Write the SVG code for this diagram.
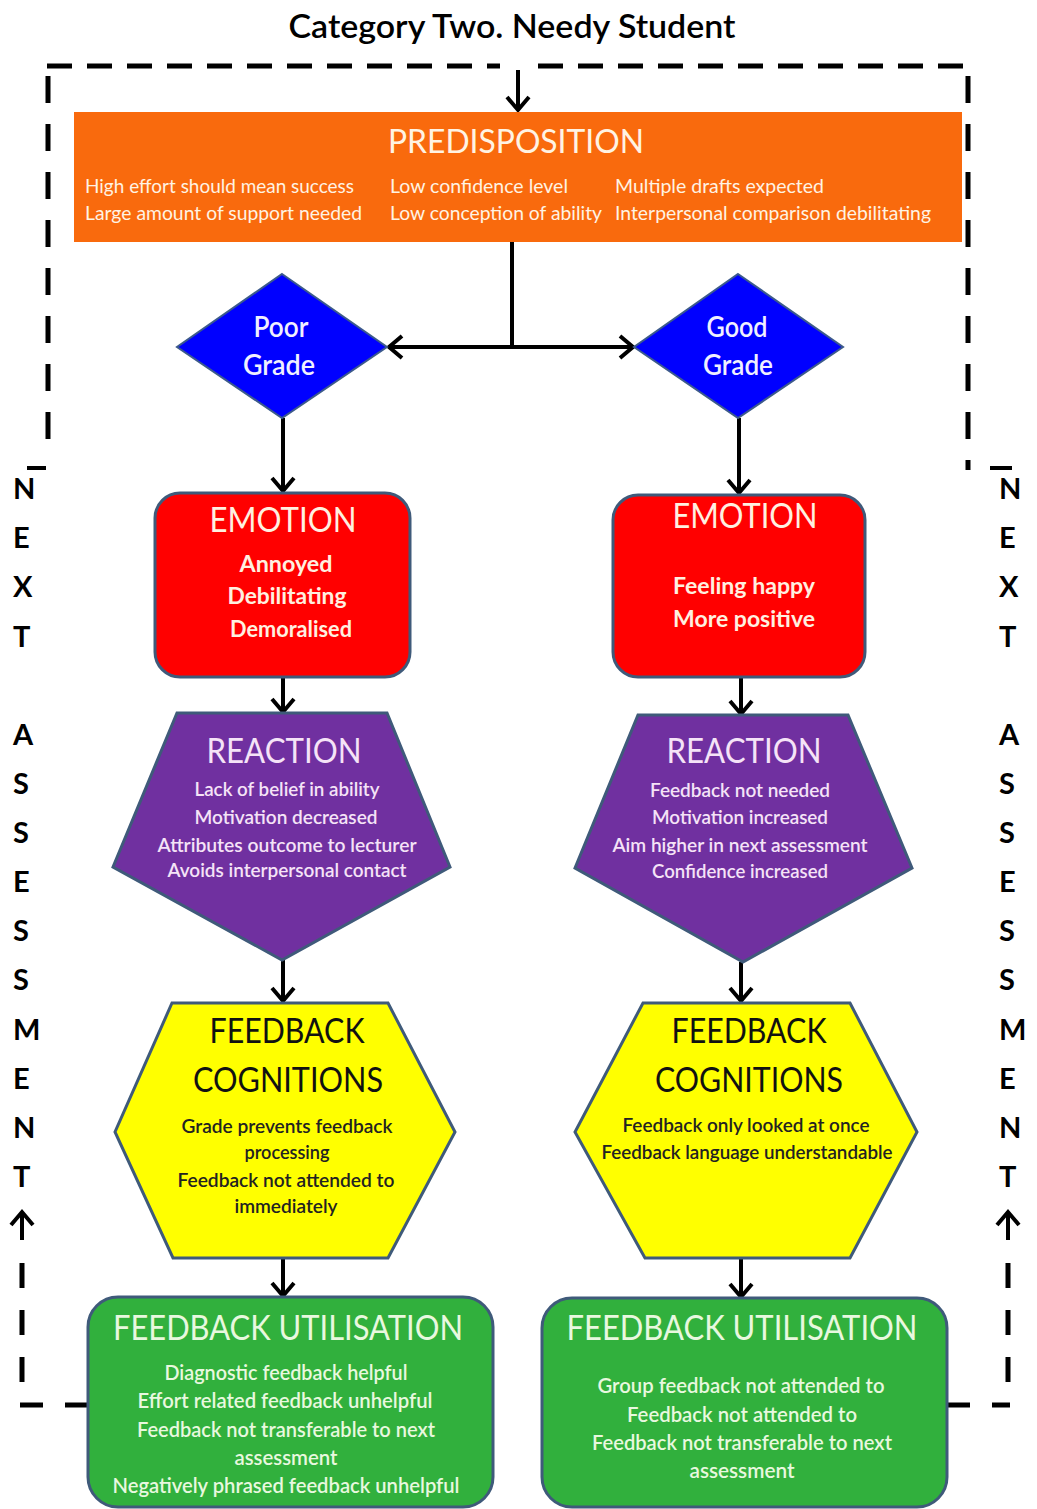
<svg xmlns="http://www.w3.org/2000/svg" width="1037" height="1509" viewBox="0 0 1037 1509">
<style>
.t{font-family:Lato,"Open Sans","Liberation Sans",sans-serif;}
.sh{stroke:#3f5a7a;stroke-width:3;}
.dash{fill:none;stroke:#000;stroke-width:5;}
.conn{fill:none;stroke:#000;stroke-width:4;marker-end:url(#ah);}
.side{font-family:Lato,"Open Sans","Liberation Sans",sans-serif;font-size:29px;font-weight:bold;fill:#000;}
</style>
<defs>
<marker id="ah" markerUnits="userSpaceOnUse" markerWidth="22" markerHeight="26" refX="16" refY="13" orient="auto">
<path d="M3,2 L16,13 L3,24" fill="none" stroke="#000" stroke-width="4"/>
</marker>
</defs>
<rect width="1037" height="1509" fill="#fff"/>

<text class="t" x="512" y="38" font-size="32" font-weight="600" text-anchor="middle" textLength="447" lengthAdjust="spacingAndGlyphs" fill="#000">Category Two. Needy Student</text>

<g id="connectors">
<path class="dash" d="M47,66 H500" stroke-dasharray="25 15"/>
<path class="dash" d="M538,66 H970" stroke-dasharray="25 15"/>
<path class="dash" d="M48,66 V450" stroke-dasharray="27 21" stroke-dashoffset="-10"/>
<path class="dash" d="M968,66 V470" stroke-dasharray="27 21" stroke-dashoffset="-10"/>
<path d="M27,468 H46" stroke="#000" stroke-width="4"/>
<path d="M990,468 H1012" stroke="#000" stroke-width="4"/>
<path class="dash" d="M88,1405 H20" stroke-dasharray="23 22"/>
<path class="dash" d="M947,1405 H1010" stroke-dasharray="23 22"/>
<path class="dash" d="M22,1382 V1245" stroke-dasharray="25 22"/>
<path class="dash" d="M1008,1382 V1245" stroke-dasharray="25 22"/>
<path class="conn" d="M22,1240 V1212"/>
<path class="conn" d="M1008,1240 V1212"/>
<path class="conn" d="M518,70 V110"/>
<path d="M512,242 V347" stroke="#000" stroke-width="4"/>
<path class="conn" d="M514,347 H389"/>
<path class="conn" d="M510,347 H633"/>
<path class="conn" d="M283,418 V491"/>
<path class="conn" d="M739,418 V493"/>
<path class="conn" d="M283,677 V712"/>
<path class="conn" d="M741,677 V714"/>
<path class="conn" d="M283,960 V1001"/>
<path class="conn" d="M741,962 V1001"/>
<path class="conn" d="M283,1258 V1296"/>
<path class="conn" d="M741,1258 V1297"/>
</g>

<g id="next-left">
<text class="side" x="13" y="499">N</text>
<text class="side" x="13" y="548">E</text>
<text class="side" x="13" y="597">X</text>
<text class="side" x="13" y="647">T</text>
<text class="side" x="13" y="745">A</text>
<text class="side" x="13" y="794">S</text>
<text class="side" x="13" y="843">S</text>
<text class="side" x="13" y="892">E</text>
<text class="side" x="13" y="941">S</text>
<text class="side" x="13" y="990">S</text>
<text class="side" x="13" y="1040">M</text>
<text class="side" x="13" y="1089">E</text>
<text class="side" x="13" y="1138">N</text>
<text class="side" x="13" y="1187">T</text>
</g>
<g id="next-right">
<text class="side" x="999" y="499">N</text>
<text class="side" x="999" y="548">E</text>
<text class="side" x="999" y="597">X</text>
<text class="side" x="999" y="647">T</text>
<text class="side" x="999" y="745">A</text>
<text class="side" x="999" y="794">S</text>
<text class="side" x="999" y="843">S</text>
<text class="side" x="999" y="892">E</text>
<text class="side" x="999" y="941">S</text>
<text class="side" x="999" y="990">S</text>
<text class="side" x="999" y="1040">M</text>
<text class="side" x="999" y="1089">E</text>
<text class="side" x="999" y="1138">N</text>
<text class="side" x="999" y="1187">T</text>
</g>

<g id="predisposition">
<rect x="74" y="112" width="888" height="130" fill="#f96a0d"/>
<g class="t" fill="#fff3e3">
<text x="516" y="153" font-size="32" text-anchor="middle" textLength="256" lengthAdjust="spacingAndGlyphs">PREDISPOSITION</text>
<g font-size="19">
<text x="85" y="193" textLength="269" lengthAdjust="spacingAndGlyphs">High effort should mean success</text>
<text x="85" y="220" textLength="277" lengthAdjust="spacingAndGlyphs">Large amount of support needed</text>
<text x="390" y="193" textLength="178" lengthAdjust="spacingAndGlyphs">Low confidence level</text>
<text x="390" y="220" textLength="212" lengthAdjust="spacingAndGlyphs">Low conception of ability</text>
<text x="615" y="193" textLength="209" lengthAdjust="spacingAndGlyphs">Multiple drafts expected</text>
<text x="615" y="220" textLength="316" lengthAdjust="spacingAndGlyphs">Interpersonal comparison debilitating</text>
</g>
</g>
</g>

<g id="poor-grade">
<polygon points="282,274 387,347 282,418 177,347" fill="#0000ff" stroke="#3c5a8c" stroke-width="2"/>
<g class="t" fill="#f0f0ff" font-size="28" font-weight="600" text-anchor="middle">
<text x="281" y="337" textLength="55" lengthAdjust="spacingAndGlyphs">Poor</text>
<text x="279" y="375" textLength="72" lengthAdjust="spacingAndGlyphs">Grade</text>
</g>
</g>

<g id="good-grade">
<polygon points="738,274 843,347 738,418 634,347" fill="#0000ff" stroke="#3c5a8c" stroke-width="2"/>
<g class="t" fill="#f0f0ff" font-size="28" font-weight="600" text-anchor="middle">
<text x="737" y="337" textLength="61" lengthAdjust="spacingAndGlyphs">Good</text>
<text x="738" y="375" textLength="70" lengthAdjust="spacingAndGlyphs">Grade</text>
</g>
</g>

<g id="emotion-poor">
<rect class="sh" x="155" y="493" width="255" height="184" rx="25" fill="#ff0000"/>
<g class="t" fill="#fff0e0" text-anchor="middle">
<text x="283" y="532" font-size="35" textLength="147" lengthAdjust="spacingAndGlyphs">EMOTION</text>
<g font-size="23" font-weight="bold">
<text x="286" y="572" textLength="93" lengthAdjust="spacingAndGlyphs">Annoyed</text>
<text x="287" y="604" textLength="119" lengthAdjust="spacingAndGlyphs">Debilitating</text>
<text x="291" y="637" textLength="122" lengthAdjust="spacingAndGlyphs">Demoralised</text>
</g>
</g>
</g>

<g id="emotion-good">
<rect class="sh" x="613" y="495" width="252" height="182" rx="25" fill="#ff0000"/>
<g class="t" fill="#fff0e0" text-anchor="middle">
<text x="745" y="528" font-size="35" textLength="145" lengthAdjust="spacingAndGlyphs">EMOTION</text>
<g font-size="23" font-weight="bold">
<text x="744" y="594" textLength="142" lengthAdjust="spacingAndGlyphs">Feeling happy</text>
<text x="744" y="627" textLength="142" lengthAdjust="spacingAndGlyphs">More positive</text>
</g>
</g>
</g>

<g id="reaction-poor">
<polygon class="sh" points="177,713 387,713 450,867 282,960 113,867" fill="#7030a0"/>
<g class="t" fill="#f5e3f7" text-anchor="middle">
<text x="284" y="763" font-size="35" textLength="155" lengthAdjust="spacingAndGlyphs">REACTION</text>
<g font-size="20" font-weight="600">
<text x="287" y="796" textLength="185" lengthAdjust="spacingAndGlyphs">Lack of belief in ability</text>
<text x="286" y="824" textLength="183" lengthAdjust="spacingAndGlyphs">Motivation  decreased</text>
<text x="287" y="852" textLength="259" lengthAdjust="spacingAndGlyphs">Attributes outcome to lecturer</text>
<text x="287" y="877" textLength="239" lengthAdjust="spacingAndGlyphs">Avoids interpersonal contact</text>
</g>
</g>
</g>

<g id="reaction-good">
<polygon class="sh" points="638,715 848,715 912,868 743,962 575,868" fill="#7030a0"/>
<g class="t" fill="#f5e3f7" text-anchor="middle">
<text x="744" y="763" font-size="35" textLength="155" lengthAdjust="spacingAndGlyphs">REACTION</text>
<g font-size="20" font-weight="600">
<text x="740" y="797" textLength="180" lengthAdjust="spacingAndGlyphs">Feedback not needed</text>
<text x="740" y="824" textLength="176" lengthAdjust="spacingAndGlyphs">Motivation  increased</text>
<text x="740" y="852" textLength="255" lengthAdjust="spacingAndGlyphs">Aim higher in next assessment</text>
<text x="740" y="878" textLength="176" lengthAdjust="spacingAndGlyphs">Confidence increased</text>
</g>
</g>
</g>

<g id="cognitions-poor">
<polygon class="sh" points="172,1003 388,1003 455,1132 388,1258 173,1258 115,1132" fill="#ffff00"/>
<g class="t" fill="#111" text-anchor="middle">
<text x="287" y="1043" font-size="35" textLength="155" lengthAdjust="spacingAndGlyphs">FEEDBACK</text>
<text x="288" y="1092" font-size="35" textLength="190" lengthAdjust="spacingAndGlyphs">COGNITIONS</text>
<g font-size="20" font-weight="600" fill="#222">
<text x="287" y="1133" textLength="211" lengthAdjust="spacingAndGlyphs">Grade prevents  feedback</text>
<text x="287" y="1159" textLength="85" lengthAdjust="spacingAndGlyphs">processing</text>
<text x="286" y="1187" textLength="217" lengthAdjust="spacingAndGlyphs">Feedback not attended to</text>
<text x="286" y="1213" textLength="103" lengthAdjust="spacingAndGlyphs">immediately</text>
</g>
</g>
</g>

<g id="cognitions-good">
<polygon class="sh" points="643,1003 850,1003 917,1132 850,1258 645,1258 575,1132" fill="#ffff00"/>
<g class="t" fill="#111" text-anchor="middle">
<text x="749" y="1043" font-size="35" textLength="155" lengthAdjust="spacingAndGlyphs">FEEDBACK</text>
<text x="749" y="1092" font-size="35" textLength="188" lengthAdjust="spacingAndGlyphs">COGNITIONS</text>
<g font-size="20" font-weight="600" fill="#222">
<text x="746" y="1132" textLength="247" lengthAdjust="spacingAndGlyphs">Feedback only looked at once</text>
<text x="747" y="1159" textLength="291" lengthAdjust="spacingAndGlyphs">Feedback language  understandable</text>
</g>
</g>
</g>

<g id="utilisation-poor">
<rect class="sh" x="88" y="1297" width="405" height="210" rx="30" fill="#31b03d"/>
<g class="t" fill="#e8f8df" text-anchor="middle">
<text x="288" y="1340" font-size="35" textLength="350" lengthAdjust="spacingAndGlyphs">FEEDBACK UTILISATION</text>
<g font-size="21" font-weight="600">
<text x="286" y="1380" textLength="243" lengthAdjust="spacingAndGlyphs">Diagnostic feedback helpful</text>
<text x="285" y="1408" textLength="295" lengthAdjust="spacingAndGlyphs">Effort related feedback unhelpful</text>
<text x="286" y="1437" textLength="298" lengthAdjust="spacingAndGlyphs">Feedback not transferable to next</text>
<text x="286" y="1465" textLength="103" lengthAdjust="spacingAndGlyphs">assessment</text>
<text x="286" y="1493" textLength="347" lengthAdjust="spacingAndGlyphs">Negatively phrased feedback unhelpful</text>
</g>
</g>
</g>

<g id="utilisation-good">
<rect class="sh" x="542" y="1298" width="405" height="209" rx="30" fill="#31b03d"/>
<g class="t" fill="#e8f8df" text-anchor="middle">
<text x="742" y="1340" font-size="35" textLength="351" lengthAdjust="spacingAndGlyphs">FEEDBACK UTILISATION</text>
<g font-size="21" font-weight="600">
<text x="741" y="1393" textLength="287" lengthAdjust="spacingAndGlyphs">Group feedback not attended to</text>
<text x="742" y="1422" textLength="230" lengthAdjust="spacingAndGlyphs">Feedback not attended to</text>
<text x="742" y="1450" textLength="300" lengthAdjust="spacingAndGlyphs">Feedback not transferable to next</text>
<text x="742" y="1478" textLength="105" lengthAdjust="spacingAndGlyphs">assessment</text>
</g>
</g>
</g>
</svg>
